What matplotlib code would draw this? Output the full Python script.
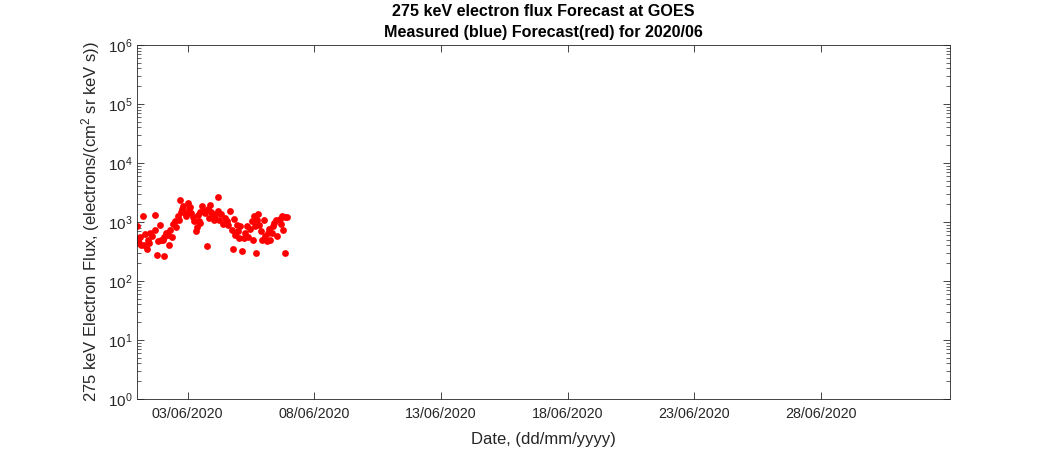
import numpy as np
import matplotlib
matplotlib.use("Agg")
import matplotlib.pyplot as plt
import matplotlib.dates as mdates
from matplotlib.ticker import LogLocator, LogFormatterSciNotation, NullFormatter
from datetime import datetime, timedelta

# Forecast (red) points: hours after 2020-06-01 00:00 and flux values
hours = [0, 0, 1, 2, 3, 4, 6, 7, 8, 9,
         10, 11, 12, 14, 17, 17, 19, 20, 22, 23,
         25, 26, 26, 27, 29, 30, 31, 33, 34, 36,
         37, 39, 40, 41, 42, 43, 44, 45, 46, 48,
         49, 50, 51, 53, 54, 56, 57, 58, 59, 60,
         60, 62, 63, 64, 66, 67, 68, 69, 70, 72,
         73, 74, 77, 77, 78, 80, 81, 83, 85, 86,
         88, 90, 91, 92, 93, 95, 96, 97, 98, 99,
         101, 102, 104, 105, 107, 109, 110, 111, 112, 113,
         114, 115, 116, 117, 118, 120, 121, 123, 124, 125,
         126, 128, 129, 130, 132, 133, 135, 136, 137, 138,
         140, 140, 142]
flux = [855, 535, 475, 440, 555, 410, 1260, 410, 625, 350,
        495, 440, 650, 580, 1310, 730, 275, 475, 890, 495,
        495, 555, 265, 650, 600, 410, 730, 555, 925, 1040,
        820, 1260, 1080, 2360, 1480, 1660, 1870, 1420, 1260, 2100,
        1660, 1800, 1420, 1220, 1040, 700, 820, 1310, 1040, 1480,
        960, 1870, 1540, 1420, 390, 1660, 1170, 1940, 1480, 1370,
        1080, 1310, 2650, 1540, 1080, 1370, 925, 1170, 1040, 890,
        1540, 730, 350, 1120, 600, 890, 700, 535, 855, 320,
        535, 650, 855, 555, 760, 1040, 495, 1260, 855, 300,
        1080, 1370, 890, 700, 495, 1080, 580, 475, 650, 760,
        495, 650, 855, 960, 1080, 580, 1120, 925, 1260, 730,
        1220, 300, 1220]

start = datetime(2020, 6, 1)
tick_dates = ["03/06/2020", "08/06/2020", "13/06/2020", "18/06/2020", "23/06/2020", "28/06/2020"]

plt.rcParams['font.family'] = ['Liberation Sans', 'DejaVu Sans']
plt.rcParams['mathtext.fontset'] = 'custom'
plt.rcParams['mathtext.rm'] = 'Liberation Sans'
plt.rcParams['mathtext.it'] = 'Liberation Sans:italic'
plt.rcParams['mathtext.bf'] = 'Liberation Sans:bold'

fg = '#262626'
fig = plt.figure(figsize=(10.5, 4.5), dpi=100)
ax = fig.add_axes([137/1050, 1 - 399/450, (950 - 137)/1050, (399 - 45)/450])

times = [start + timedelta(hours=h) for h in hours]
ax.plot(times, flux, 'o', color='#ff0000', markersize=4.9, markeredgewidth=0)

ax.set_yscale('log')
ax.set_ylim(1, 1e6)
ax.set_xlim(start, datetime(2020, 7, 3, 2))

ticks = [datetime.strptime(t, "%d/%m/%Y") for t in tick_dates]
ax.set_xticks(ticks)
ax.set_xticklabels(tick_dates)
ax.yaxis.set_major_locator(LogLocator(base=10, numticks=10))
ax.yaxis.set_major_formatter(LogFormatterSciNotation())
ax.yaxis.set_minor_locator(LogLocator(base=10, subs=np.arange(2, 10), numticks=20))
ax.yaxis.set_minor_formatter(NullFormatter())

ax.tick_params(which='both', direction='in', top=True, right=True, colors=fg, labelsize=10.3)
ax.tick_params(which='major', length=5, width=0.6)
ax.tick_params(which='minor', length=3, width=0.5)
ax.tick_params(axis='x', pad=6)
ax.tick_params(axis='y', labelsize=11)
for s in ax.spines.values():
    s.set_color(fg)
    s.set_linewidth(0.6)

ax.set_xlabel('Date, (dd/mm/yyyy)', fontsize=12, color=fg, labelpad=8)
ax.set_ylabel('275 keV Electron Flux, (electrons/(cm$^2$ sr keV s))', fontsize=12, color=fg)
ax.set_title('275 keV electron flux Forecast at GOES\nMeasured (blue) Forecast(red) for 2020/06',
             fontsize=11.6, fontweight='bold', color='black', linespacing=1.45)

fig.savefig('out.png', dpi=100)
